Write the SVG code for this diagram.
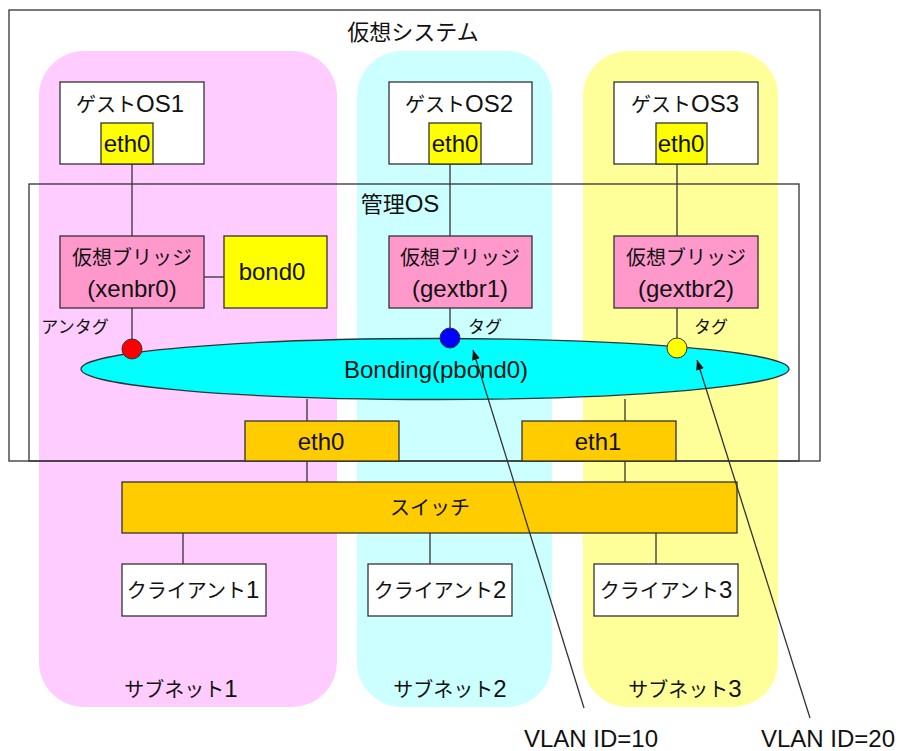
<svg xmlns="http://www.w3.org/2000/svg" width="900" height="751" viewBox="0 0 900 751">
<defs>
<style>
text{font-family:"Liberation Sans","Noto Sans CJK JP",sans-serif;fill:#111;text-anchor:middle}
.box{stroke:#333;stroke-width:1.3}
.frame{fill:none;stroke:#333;stroke-width:1.3}
.ln{stroke:#333;stroke-width:1.3;fill:none}
.guest{fill:#fff}
.eth{fill:#ffff00}
.br{fill:#ff99cc}
.org{fill:#ffcc00}
.cl{fill:#fff}
.t20{font-size:20px}
.t22{font-size:22px}
.t24{font-size:24px}
.t17{font-size:17px}
.lat{font-size:24px}
</style>
<marker id="ah" viewBox="0 0 10 10" refX="10" refY="5" markerWidth="10" markerHeight="10" markerUnits="userSpaceOnUse" orient="auto">
<path d="M0,1 L10,5 L0,9 z" fill="#111"/>
</marker>
</defs>
<rect width="900" height="751" fill="#fff"/>

<g id="subnet1"><rect x="39" y="51" width="298" height="656" rx="45" fill="#ffccff"/><text class="t20" x="181" y="697">サブネット<tspan class="lat">1</tspan></text></g>
<g id="subnet2"><rect x="357" y="51" width="195" height="656" rx="45" fill="#ccffff"/><text class="t20" x="450" y="697">サブネット<tspan class="lat">2</tspan></text></g>
<g id="subnet3"><rect x="583" y="51" width="195" height="656" rx="45" fill="#ffff99"/><text class="t20" x="685" y="697">サブネット<tspan class="lat">3</tspan></text></g>

<g id="system"><rect class="frame" x="9" y="10" width="811" height="451"/><text class="t22" x="413" y="40">仮想システム</text></g>
<g id="mgmt"><rect class="frame" x="29" y="184" width="770" height="277"/><text class="t22" x="400" y="212">管理<tspan class="lat">OS</tspan></text></g>

<g id="connectors">
<line class="ln" x1="132" y1="164" x2="132" y2="236"/>
<line class="ln" x1="450" y1="164" x2="450" y2="236"/>
<line class="ln" x1="677" y1="164" x2="677" y2="236"/>
<line class="ln" x1="204" y1="277" x2="224" y2="277"/>
<line class="ln" x1="132" y1="308" x2="132" y2="340"/>
<line class="ln" x1="450" y1="308" x2="450" y2="328"/>
<line class="ln" x1="677" y1="308" x2="677" y2="339"/>
<line class="ln" x1="307" y1="399" x2="307" y2="421"/>
<line class="ln" x1="625" y1="399" x2="625" y2="421"/>
<line class="ln" x1="307" y1="461" x2="307" y2="482"/>
<line class="ln" x1="625" y1="461" x2="625" y2="482"/>
<line class="ln" x1="183" y1="533" x2="183" y2="564"/>
<line class="ln" x1="430" y1="533" x2="430" y2="564"/>
<line class="ln" x1="656" y1="533" x2="656" y2="564"/>
</g>

<g id="guest1"><rect class="box guest" x="60" y="82" width="144" height="82"/><text class="t20" x="130" y="112">ゲスト<tspan class="lat">OS1</tspan></text></g>
<g id="g1eth0"><rect class="box eth" x="101" y="123" width="52" height="41"/><text class="t24" x="127" y="152">eth0</text></g>
<g id="guest2"><rect class="box guest" x="389" y="82" width="143" height="82"/><text class="t20" x="459" y="112">ゲスト<tspan class="lat">OS2</tspan></text></g>
<g id="g2eth0"><rect class="box eth" x="429" y="123" width="52" height="41"/><text class="t24" x="455" y="152">eth0</text></g>
<g id="guest3"><rect class="box guest" x="614" y="82" width="144" height="82"/><text class="t20" x="685" y="112">ゲスト<tspan class="lat">OS3</tspan></text></g>
<g id="g3eth0"><rect class="box eth" x="656" y="123" width="51" height="41"/><text class="t24" x="681" y="152">eth0</text></g>

<g id="xenbr0"><rect class="box br" x="60" y="236" width="144" height="72"/><text class="t20" x="132" y="265">仮想ブリッジ</text><text class="t24" x="132" y="297">(xenbr0)</text></g>
<g id="bond0"><rect class="box eth" x="224" y="236" width="103" height="72"/><text class="t24" x="272" y="280">bond0</text></g>
<g id="gextbr1"><rect class="box br" x="389" y="236" width="143" height="72"/><text class="t20" x="460" y="265">仮想ブリッジ</text><text class="t24" x="460" y="297">(gextbr1)</text></g>
<g id="gextbr2"><rect class="box br" x="614" y="236" width="144" height="72"/><text class="t20" x="686" y="265">仮想ブリッジ</text><text class="t24" x="686" y="297">(gextbr2)</text></g>

<g id="pbond0"><ellipse cx="435" cy="369" rx="354" ry="30.5" fill="#00ffff" stroke="#333" stroke-width="1.3"/><text class="t24" x="436" y="378">Bonding(pbond0)</text></g>

<g id="tag-untag"><circle cx="132" cy="349" r="10" fill="#ff0000" stroke="#333" stroke-width="1"/><text class="t17" x="75" y="333">アンタグ</text></g>
<g id="tag10"><circle cx="450" cy="338" r="10" fill="#0000ff" stroke="#333" stroke-width="1"/><text class="t17" x="485" y="333">タグ</text></g>
<g id="tag20"><circle cx="677" cy="348" r="10" fill="#ffff00" stroke="#333" stroke-width="1"/><text class="t17" x="711" y="333">タグ</text></g>

<g id="eth0"><rect class="box org" x="245" y="421" width="154" height="40"/><text class="t24" x="321" y="450">eth0</text></g>
<g id="eth1"><rect class="box org" x="522" y="421" width="154" height="40"/><text class="t24" x="598" y="450">eth1</text></g>
<g id="switch"><rect class="box org" x="122" y="482" width="615" height="51"/><text class="t20" x="430" y="515">スイッチ</text></g>

<g id="client1"><rect class="box cl" x="122" y="564" width="144" height="52"/><text class="t20" x="193" y="598">クライアント<tspan class="lat">1</tspan></text></g>
<g id="client2"><rect class="box cl" x="368" y="564" width="144" height="52"/><text class="t20" x="440" y="598">クライアント<tspan class="lat">2</tspan></text></g>
<g id="client3"><rect class="box cl" x="594" y="564" width="144" height="52"/><text class="t20" x="666" y="598">クライアント<tspan class="lat">3</tspan></text></g>

<g id="callouts">
<line class="ln" x1="584" y1="708" x2="473" y2="350" marker-end="url(#ah)"/>
<line class="ln" x1="810" y1="718" x2="697" y2="360" marker-end="url(#ah)"/>
</g>
<g id="vlan10"><text class="t24" x="591" y="747">VLAN ID=10</text></g>
<g id="vlan20"><text class="t24" x="828" y="747">VLAN ID=20</text></g>
</svg>
